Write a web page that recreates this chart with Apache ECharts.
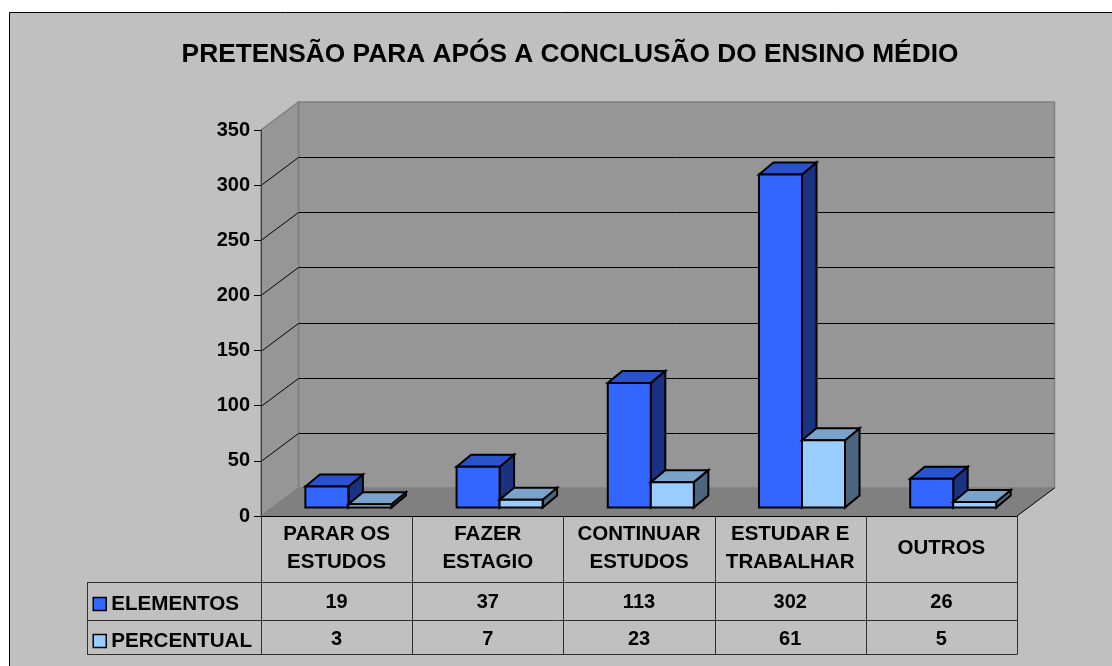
<!DOCTYPE html>
<html>
<head>
<meta charset="utf-8">
<style>html,body{margin:0;padding:0;background:#fff}#c{width:1112px;height:666px}</style>
<script src="https://cdn.jsdelivr.net/npm/echarts@6/dist/echarts.min.js"></script>
</head>
<body>
<div id="c"></div>
<script>
const titleText = 'PRETENSÃO PARA APÓS A CONCLUSÃO DO ENSINO MÉDIO';
const categories = ['PARAR OS\nESTUDOS', 'FAZER\nESTAGIO', 'CONTINUAR\nESTUDOS', 'ESTUDAR E\nTRABALHAR', 'OUTROS'];
const elementos = [19, 37, 113, 302, 26];
const percentual = [3, 7, 23, 61, 5];
const yTicks = [0, 50, 100, 150, 200, 250, 300, 350];

const FONT = '"Liberation Sans", Arial, sans-serif';
const DX = 37.5, DY = 28;         // depth of the 3D box
const BDX = 14.5, BDY = 12;       // depth of a bar
const ROW_Y = [582, 620, 654];    // table rules
const ROW_TEXT_Y = [602, 639];
const TABLE_LEFT = 87;
const crisp = v => Math.round(v) + 0.5;

function renderWall(params, api) {
  const v = api.value(0);
  const p0 = api.coord([0, 0]);
  const band = api.size([1, 0])[0];
  const xl = p0[0] - band / 2;
  const xr = xl + band * categories.length;
  const y0 = p0[1];
  const yTop = api.coord([0, yTicks[yTicks.length - 1]])[1];
  const children = [];
  if (params.dataIndex === 0) {
    const wall = { fill: '#969696', stroke: '#808080', lineWidth: 1.5 };
    children.push({ type: 'polygon', shape: { points: [[xl + DX, yTop - DY], [xr + DX, yTop - DY], [xr + DX, y0 - DY], [xl + DX, y0 - DY]] }, style: wall });
    children.push({ type: 'polygon', shape: { points: [[xl, yTop], [xl + DX, yTop - DY], [xl + DX, y0 - DY], [xl, y0]] }, style: wall });
    children.push({ type: 'polygon', shape: { points: [[xl, y0], [xl + DX, y0 - DY], [xr + DX, y0 - DY], [xr, y0]] }, style: { fill: '#808080' } });
    children.push({ type: 'line', shape: { x1: xr, y1: y0, x2: xr + DX, y2: y0 - DY }, style: { stroke: '#000', lineWidth: 1 } });
  } else if (v < yTicks[yTicks.length - 1]) {
    const y = api.coord([0, v])[1];
    children.push({ type: 'polyline', shape: { points: [[xl, crisp(y)], [xl + DX, crisp(y - DY)], [xr + DX, crisp(y - DY)]] }, style: { stroke: '#000', fill: null, lineWidth: 1 } });
  }
  return { type: 'group', children };
}

function makeBar(side, front, top, right) {
  return function (params, api) {
    const i = api.value(0);
    const base = api.coord([i, 0]);
    const head = api.coord([i, api.value(1)]);
    const band = api.size([1, 0])[0];
    const w = band * 0.2845;
    const cx = base[0] + 11.8;
    const x1 = side < 0 ? cx - w : cx;
    const x2 = x1 + w;
    const yb = base[1] - 8.5, yt = head[1] - 8.5;
    const s = { stroke: '#000', lineWidth: 2, lineJoin: 'miter' };
    return { type: 'group', children: [
      { type: 'polygon', shape: { points: [[x2, yt], [x2 + BDX, yt - BDY], [x2 + BDX, yb - BDY], [x2, yb]] }, style: Object.assign({ fill: right }, s) },
      { type: 'polygon', shape: { points: [[x1, yt], [x1 + BDX, yt - BDY], [x2 + BDX, yt - BDY], [x2, yt]] }, style: Object.assign({ fill: top }, s) },
      { type: 'polygon', shape: { points: [[x1, yb], [x1, yt], [x2, yt], [x2, yb]] }, style: Object.assign({ fill: front }, s) }
    ] };
  };
}

function renderTable(params, api) {
  const i = api.value(0);
  const c = api.coord([i, 0]);
  const band = api.size([1, 0])[0];
  const xl = c[0] - band / 2, xr = c[0] + band / 2;
  const line = { stroke: '#303030', lineWidth: 1 };
  const txt = (t, y) => ({ type: 'text', x: c[0], y, style: { text: String(t), x: 0, y: 0, align: 'center', verticalAlign: 'middle', font: 'bold 20px ' + FONT, fill: '#000' } });
  const children = [
    { type: 'line', shape: { x1: crisp(xl), y1: c[1], x2: crisp(xl), y2: ROW_Y[2] }, style: line },
    txt(api.value(1), ROW_TEXT_Y[0]),
    txt(api.value(2), ROW_TEXT_Y[1])
  ];
  if (i === categories.length - 1) {
    children.push({ type: 'line', shape: { x1: crisp(xr), y1: c[1], x2: crisp(xr), y2: ROW_Y[2] }, style: line });
    ROW_Y.forEach(y => children.push({ type: 'line', shape: { x1: TABLE_LEFT, y1: y + 0.5, x2: crisp(xr), y2: y + 0.5 }, style: line }));
    children.push({ type: 'line', shape: { x1: TABLE_LEFT + 0.5, y1: ROW_Y[0], x2: TABLE_LEFT + 0.5, y2: ROW_Y[2] }, style: line });
  }
  return { type: 'group', children };
}

const chart = echarts.init(document.getElementById('c'), null, { renderer: 'canvas' });
chart.setOption({
  animation: false,
  backgroundColor: '#ffffff',
  graphic: [{
    type: 'rect', z: -10, silent: true,
    shape: { x: 9.5, y: 12.5, width: 1110, height: 660 },
    style: { fill: '#C0C0C0', stroke: '#000', lineWidth: 1 }
  }],
  title: {
    text: titleText, left: 565, top: 37, textAlign: 'center',
    textStyle: { fontFamily: FONT, fontWeight: 'bold', fontSize: 26.3, color: '#000' }
  },
  legend: {
    data: ['ELEMENTOS', 'PERCENTUAL'],
    orient: 'vertical', left: 92.5, top: 593.5, itemWidth: 13, itemHeight: 13, itemGap: 16,
    icon: 'rect', selectedMode: false, padding: 0,
    textStyle: { fontFamily: FONT, fontWeight: 'bold', fontSize: 20.6, color: '#000', padding: [0, 0, 3, 0] },
    itemStyle: { borderColor: '#000', borderWidth: 1.5 }
  },
  grid: { left: 261, right: 95, top: 130, bottom: 150 },
  xAxis: {
    type: 'category',
    data: categories.map(c => c.includes('\n') ? c : { value: c, textStyle: { verticalAlign: 'middle', padding: [0, 0, 3, 0] } }),
    boundaryGap: true,
    axisLine: { show: true, lineStyle: { color: '#000', width: 1 } },
    axisTick: { show: false },
    axisLabel: { interval: 0, margin: 32.5, verticalAlign: 'middle', fontFamily: FONT, fontWeight: 'bold', fontSize: 20.5, lineHeight: 27.5, color: '#000' }
  },
  yAxis: {
    type: 'value', min: 0, max: 350, interval: 50,
    axisLine: { show: true, lineStyle: { color: '#404040', width: 1 } },
    axisTick: { show: true, length: 7, lineStyle: { color: '#000', width: 1 } },
    axisLabel: { margin: 11, padding: [2, 0, 0, 0], fontFamily: FONT, fontWeight: 'bold', fontSize: 20, color: '#000' },
    splitLine: { show: false }
  },
  series: [
    { type: 'custom', name: 'paredes', silent: true, z: 0, renderItem: renderWall, data: yTicks.map(v => [v]), encode: { y: 0 } },
    { type: 'custom', name: 'ELEMENTOS', z: 2, itemStyle: { color: '#3366FF' }, renderItem: makeBar(-1, '#3366FF', '#2952CC', '#1A3380'),
      data: elementos.map((v, i) => [i, v]), encode: { x: 0, y: 1 } },
    { type: 'custom', name: 'PERCENTUAL', z: 2, itemStyle: { color: '#99CCFF' }, renderItem: makeBar(1, '#99CCFF', '#7AA3CC', '#4D6680'),
      data: percentual.map((v, i) => [i, v]), encode: { x: 0, y: 1 } },
    { type: 'custom', name: 'tabela', silent: true, z: 1, renderItem: renderTable,
      data: categories.map((c, i) => [i, elementos[i], percentual[i]]), encode: { x: 0 } }
  ]
});
</script>
</body>
</html>
